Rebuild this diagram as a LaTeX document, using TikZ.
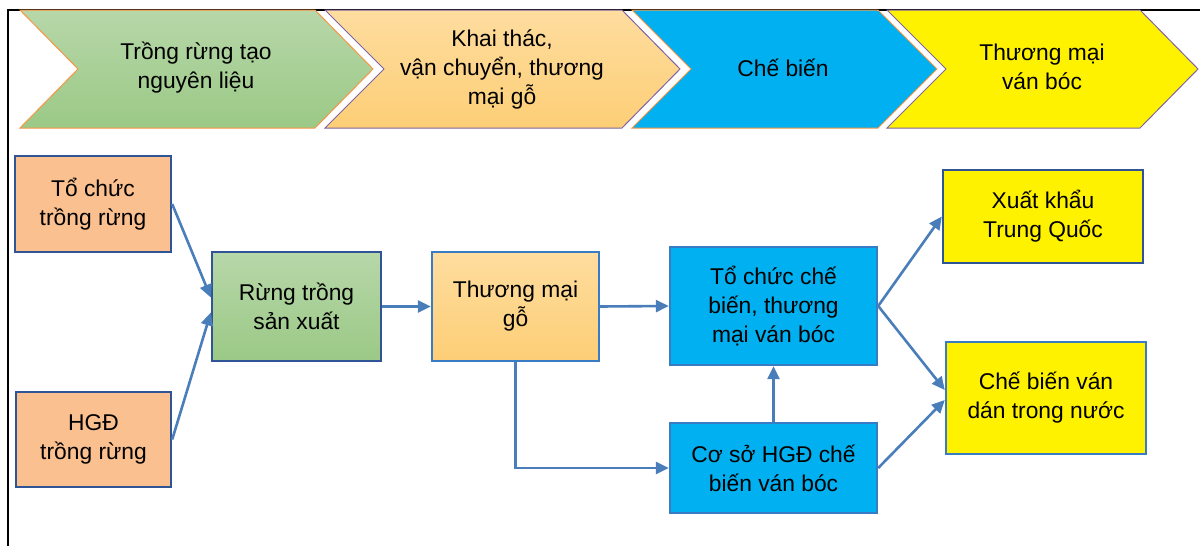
\documentclass[tikz,border=0pt]{standalone}
\usepackage{fontspec}
\setmainfont{Liberation Sans}
\usetikzlibrary{arrows.meta, positioning}

\definecolor{linkblue}{HTML}{4A7EBB}
\definecolor{edgedark}{HTML}{2F5597}
\definecolor{edgelight}{HTML}{3A7CC4}
\definecolor{peach}{HTML}{FAC090}
\definecolor{greentop}{HTML}{B7D7A9}
\definecolor{greenbot}{HTML}{9BC986}
\definecolor{sandtop}{HTML}{FEDD9F}
\definecolor{sandbot}{HTML}{FDCE76}
\definecolor{skyblue}{HTML}{00B0F0}
\definecolor{chevorange}{HTML}{F79646}
\definecolor{chevpurple}{HTML}{8064A2}

\begin{document}
\begin{tikzpicture}[
      x=1pt, y=-1pt,
      font=\fontsize{22.8}{29}\selectfont,
      >={Triangle[length=13pt,width=12pt]},
      stage/.style={
        line width=1pt,
        line join=miter
      },
      label/.style={
        align=center,
        inner sep=0pt
      },
      actor/.style={
        draw=edgedark,
        line width=2.4pt,
        align=center,
        inner sep=0pt
      },
      flow/.style={->, draw=linkblue, line width=2.6pt}
    ]
    \useasboundingbox (0,0) rectangle (1200,546);

    % Frame
    \draw[line width=2pt] (8,546) -- (8,10) -- (1200,10);

    % Value chain stages
    \draw[stage, draw=chevorange, top color=greentop, bottom color=greenbot]
      (20,10) -- (315,10) -- (373,69) -- (315,128) -- (20,128) -- (78,69) -- cycle;
    \draw[stage, draw=chevpurple, top color=sandtop, bottom color=sandbot]
      (325,10) -- (622,10) -- (680,69) -- (622,128) -- (325,128) -- (384,69) -- cycle;
    \draw[stage, draw=chevorange, fill=skyblue]
      (632,10) -- (878,10) -- (937,69) -- (878,128) -- (632,128) -- (691,69) -- cycle;
    \draw[stage, draw=chevpurple, fill=yellow]
      (887,10) -- (1140,10) -- (1198,69) -- (1140,128) -- (887,128) -- (946,69) -- cycle;

    \node[label] (Strong) at (196,68) {Trồng rừng tạo\\nguyên liệu};
    \node[label] (Skhai) at (502,69) {Khai thác,\\vận chuyển, thương\\mại gỗ};
    \node[label] (Schebien) at (783,68) {Chế biến};
    \node[label] (Sthuongmai) at (1042,67) {Thương mại\\ván bóc};

    % Actor nodes
    \node[actor, fill=peach, minimum width=156pt, minimum height=96pt] (tochuc) at (93,204) {Tổ chức\\trồng rừng};
    \node[actor, fill=peach, minimum width=155pt, minimum height=95pt] (hgd) at (93.5,439.5) {HGĐ\\trồng rừng};
    \node[actor, top color=greentop, bottom color=greenbot, minimum width=169pt, minimum height=109pt] (rung) at (296.5,306.5) {Rừng trồng\\sản xuất};
    \node[actor, draw=edgelight, top color=sandtop, bottom color=sandbot, minimum width=167pt, minimum height=109pt] (tmgo) at (515.5,306.5) {Thương mại\\gỗ};
    \node[actor, draw=edgelight, fill=skyblue, minimum width=207pt, minimum height=118pt] (tccb) at (773.5,306) {Tổ chức chế\\biến, thương\\mại ván bóc};
    \node[actor, draw=edgelight, fill=skyblue, minimum width=207pt, minimum height=90pt] (coso) at (773.5,468) {Cơ sở HGĐ chế\\biến ván bóc};
    \node[actor, fill=yellow, minimum width=200pt, minimum height=93pt] (xuatkhau) at (1043,216.5) {Xuất khẩu\\Trung Quốc};
    \node[actor, draw=edgelight, fill=yellow, minimum width=200pt, minimum height=112pt] (vandan) at (1046,398) {Chế biến ván\\dán trong nước};

    % Flows
    \draw[flow] (tochuc.east) -- ([yshift=9pt]rung.west);
    \draw[flow] (hgd.east) -- ([yshift=-6pt]rung.west);
    \draw[flow] (rung.east) -- (tmgo.west);
    \draw[flow] (tmgo.east) -- (tccb.west);
    \draw[flow] (tmgo.south) |- (coso.west);
    \draw[flow] (coso.north) -- (tccb.south);
    \draw[flow] (tccb.east) -- (xuatkhau.west);
    \draw[flow] (tccb.east) -- ([yshift=8pt]vandan.west);
    \draw[flow] (coso.east) -- ([yshift=-2pt]vandan.west);

  \end{tikzpicture}
\end{document}
